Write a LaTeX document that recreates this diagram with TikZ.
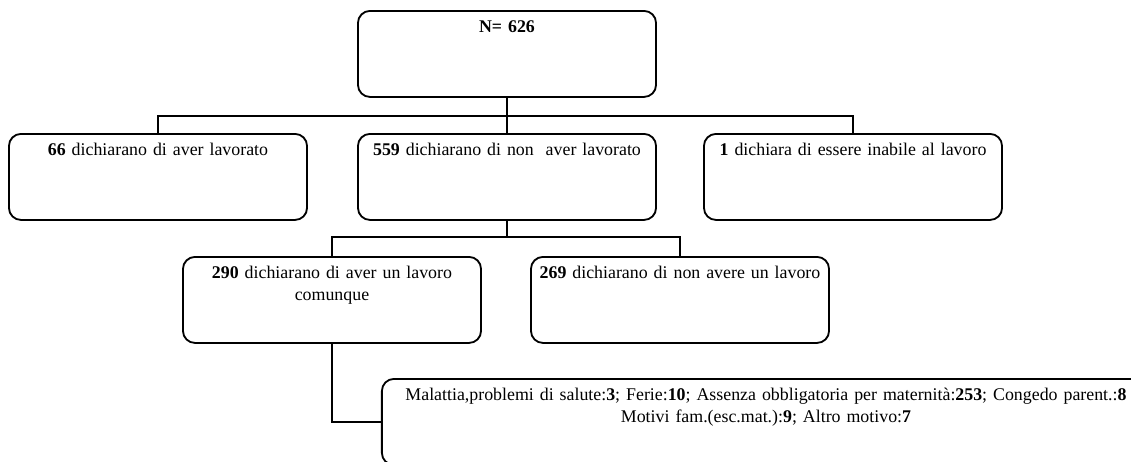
\documentclass[tikz,border=0pt]{standalone}
\usepackage{fontspec}
\setmainfont{Liberation Serif}
\begin{document}
\begin{tikzpicture}[x=0.025cm, y=-0.025cm, line width=1.3pt,
  box/.style={draw, rounded corners=0.3cm, anchor=north, inner xsep=0.1cm, inner ysep=0pt,
    text width=7.25cm, align=center, text height=0.55cm, text depth=1.6cm,
    font=\fontsize{12.7}{15}\selectfont},
  wide/.style={box, text width=19cm}]
\clip (0,0) rectangle (1131,461);
\node[box] (P_0_0) at (507,10) {\textbf{N= 626}};
\node[box] (P_1_0) at (158,133) {\textbf{66} dichiarano di aver lavorato};
\node[box] (P_1_1) at (507,133) {\textbf{559} dichiarano di non\ \ aver lavorato};
\node[box] (P_1_2) at (853,133) {\textbf{1} dichiara di essere inabile al lavoro};
\coordinate (Q_0) at (507,116);
\draw (P_0_0) -- (P_1_1);
\draw (P_1_0.north) |- (Q_0) -| (P_1_2.north);
\node[box] (P_2_0) at (332,256) {\textbf{290} dichiarano di aver un lavoro\\comunque};
\node[box] (P_2_1) at (680,256) {\textbf{269} dichiarano di non avere un lavoro};
\coordinate (Q_1) at (507,237);
\draw (P_1_1) -- (Q_1);
\draw (P_2_0.north) |- (Q_1) -| (P_2_1.north);
\node[wide] (P_3_0) at (766,378) {Malattia,problemi di salute:\textbf{3}; Ferie:\textbf{10}; Assenza obbligatoria per maternità:\textbf{253}; Congedo parent.:\textbf{8}\\Motivi fam.(esc.mat.):\textbf{9}; Altro motivo:\textbf{7}};
\draw (P_2_0.south) |- (P_3_0.west);
\end{tikzpicture}
\end{document}
